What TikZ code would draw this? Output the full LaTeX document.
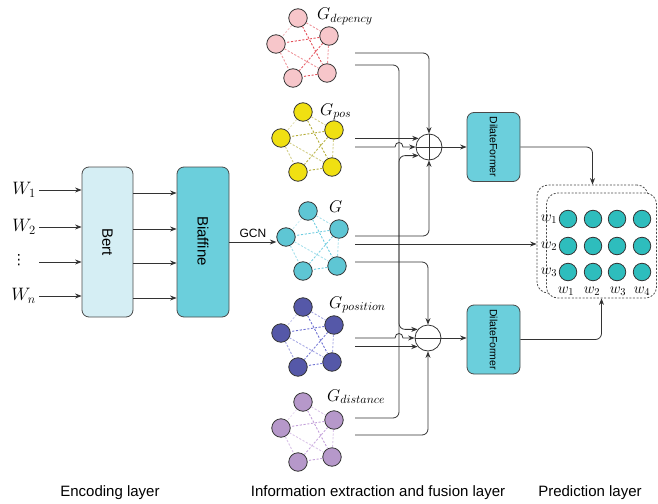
\RequirePackage{fix-cm}
\documentclass[tikz,border=0pt]{standalone}
\usepackage{fontspec}
\setsansfont{Liberation Sans}
\newfontfamily\symbolfont{DejaVu Sans}
\usetikzlibrary{arrows.meta,calc}

\definecolor{dkline}{HTML}{333333}
\definecolor{boxline}{HTML}{4A4A4A}
\definecolor{pinkfill}{HTML}{F7C6CA}
\definecolor{pinkedge}{HTML}{E4505A}
\definecolor{yelfill}{HTML}{F0E012}
\definecolor{yeledge}{HTML}{B5AE3A}
\definecolor{cyanfill}{HTML}{5EC6D4}
\definecolor{cyanedge}{HTML}{6FCDE0}
\definecolor{bluefill}{HTML}{5558A8}
\definecolor{blueedge}{HTML}{6D70D2}
\definecolor{purpfill}{HTML}{B698CA}
\definecolor{purpedge}{HTML}{C3A0DA}
\definecolor{bertfill}{HTML}{D5EEF4}
\definecolor{biafill}{HTML}{6BCFDC}
\definecolor{gridfill}{HTML}{2EBDBD}

% five-node graph: prefix, x, y, fill colour, edge colour
\newcommand\graphfive[5]{%
  \begin{scope}[shift={(#2,#3)}]
    \node[gnode,fill=#4] (#1a) at (0,0) {};
    \node[gnode,fill=#4] (#1b) at (31,18) {};
    \node[gnode,fill=#4] (#1c) at (-22,26) {};
    \node[gnode,fill=#4] (#1d) at (29,55) {};
    \node[gnode,fill=#4] (#1e) at (-5,60) {};
  \end{scope}
  \foreach \p/\q/\o in {a/b/0.6,a/d/1,b/c/1,b/d/0.6,b/e/0.9,c/d/0.6,c/e/0.6,d/e/1,a/c/0.35}
    \draw[gedge,draw=#5,draw opacity=\o] (#1\p) -- (#1\q);
}

\begin{document}
\begin{tikzpicture}[x=1pt,y=-1pt,
  gnode/.style={circle,draw=dkline,line width=0.8pt,minimum size=18.5pt,inner sep=0pt},
  gedge/.style={dash pattern=on 2.2pt off 1.6pt,line width=0.9pt},
  wire/.style={draw=dkline,line width=0.8pt},
  conn/.style={wire,-{Stealth[length=6.5pt,width=5pt]}},
  rc/.style={rounded corners=6pt},
  block/.style={draw=boxline,line width=0.8pt,rounded corners=7pt},
  fuse/.style={circle,draw=dkline,line width=0.8pt,fill=white,minimum size=26pt,inner sep=0pt},
  dbox/.style={draw=boxline,line width=0.8pt,dash pattern=on 2pt off 1.6pt,rounded corners=11pt},
  pnode/.style={circle,draw=dkline,line width=0.8pt,fill=gridfill,minimum size=17.5pt,inner sep=0pt},
  lab/.style={font=\sffamily\fontsize{15}{18}\selectfont},
  wlab/.style={font=\fontsize{18}{20}\selectfont,inner sep=0pt},
  glab/.style={font=\fontsize{17}{19}\selectfont,inner sep=0pt},
  plab/.style={font=\fontsize{15}{17}\selectfont,inner sep=0pt}]
\useasboundingbox (0,0) rectangle (658,503);

% ---------------- encoding layer ----------------
\node[block,fill=bertfill,minimum width=51pt,minimum height=150pt] (bert) at (107.5,242) {};
\node[lab,rotate=-90] (berttxt) at (bert.center) {Bert};
\node[block,fill=biafill,minimum width=52pt,minimum height=150pt] (biaf) at (203,242) {};
\node[lab,rotate=-90] (biaftxt) at (203,241) {Biaffine};

\node[wlab,anchor=east] (w1) at (36,190) {$W_1$};
\node[wlab,anchor=east] (w2) at (36,227) {$W_2$};
\node[font=\symbolfont\fontsize{14}{16}\selectfont,inner sep=0pt] (w3) at (19,260) {⋮};
\node[wlab,anchor=east] (w4) at (36,296) {$W_n$};
\coordinate (inx) at (39,0);
\coordinate (in3) at (39,262);
\draw[conn] (inx |- w1.east) -- (w1.east -| bert.west);
\draw[conn] (inx |- w2.east) -- (w2.east -| bert.west);
\draw[conn] (in3) -- (in3 -| bert.west);
\draw[conn] (inx |- w4.east) -- (w4.east -| bert.west);

\foreach \s in {49,13,-21,-56}
  \draw[conn] ([yshift=\s pt]bert.east) -- ([yshift=\s pt]biaf.west);

% ---------------- graphs ----------------
\graphfive{dep}{298}{18}{pinkfill}{pinkedge}
\graphfive{pos}{303}{112}{yelfill}{yeledge}
\graphfive{g}{308}{211}{cyanfill}{cyanedge}
\graphfive{psn}{303}{307}{bluefill}{blueedge}
\graphfive{dst}{303}{402}{purpfill}{purpedge}

\node[glab,anchor=base west] (ldep) at (317,20) {$G_{depency}$};
\node[glab,anchor=base west] (lpos) at (320,115) {$G_{pos}$};
\node[glab,anchor=base west] (lg) at (329,212) {$G$};
\node[glab,anchor=base west] (lpsn) at (329,308) {$G_{position}$};
\node[glab,anchor=base west] (ldst) at (327,401) {$G_{distance}$};

\draw[conn] (biaf.east) -- (biaf.east -| gc.west) node[midway,above=4pt,font=\sffamily\fontsize{12}{14}\selectfont,inner sep=0pt] (gcn) {GCN};

% ---------------- fusion ----------------
\node[fuse] (f1) at (429,147) {};
\node[fuse] (f2) at (428,338) {};
\draw[wire] (f1.north) -- (f1.south) (f1.west) -- (f1.east);
\draw[wire] (f2.west) -- (f2.east);

\coordinate (ox) at (355,0);
\coordinate (trunk) at (399,0);
\coordinate (dep-o1) at (355,53);
\coordinate (dep-o2) at (355,65);
\coordinate (g-o1) at (355,236);
\coordinate (g-o2) at (355,244);
\coordinate (g-o3) at (355,262);
\coordinate (dst-o1) at (355,418);
\coordinate (dst-o2) at (355,435);
\coordinate (h1l) at (395,147);
\coordinate (h1r) at (403,147);
\coordinate (h2l) at (395,338);
\coordinate (h2r) at (403,338);

\draw[conn,rc] (dep-o1) -| (f1.north);
\draw[conn,rc] (dep-o2) -| (trunk |- f2.140) -- (f2.140);
\draw[conn] (ox |- f1.140) -- (f1.140);
\draw[conn] (ox |- f1.180) -- (h1l) .. controls +(0,-6) and +(0,-6) .. (h1r) -- (f1.180);
\draw[conn,rc] (dst-o1) -| (trunk |- f1.220) -- (f1.220);
\draw[conn,rc] (g-o1) -| (f1.south);
\draw[conn,rc] (g-o3) -| (f2.north);
\draw[conn] (ox |- f2.180) -- (h2l) .. controls +(0,-6) and +(0,-6) .. (h2r) -- (f2.180);
\draw[conn] (ox |- f2.220) -- (f2.220);
\draw[conn,rc] (dst-o2) -| (f2.south);

% ---------------- DilateFormer blocks ----------------
\node[block,fill=biafill,minimum width=53pt,minimum height=69pt] (df1) at (493.5,147) {};
\node[rotate=-90,font=\sffamily\fontsize{10.5}{12}\selectfont] (df1txt) at (df1.center) {DilateFormer};
\node[block,fill=biafill,minimum width=53pt,minimum height=69pt] (df2) at (493.5,339.5) {};
\node[rotate=-90,font=\sffamily\fontsize{10.5}{12}\selectfont] (df2txt) at (df2.center) {DilateFormer};
\draw[conn] (f1.east) -- (f1.east -| df1.west);
\draw[conn] (f2.east) -- (f2.east -| df2.west);

% ---------------- prediction ----------------
\node[dbox,minimum width=111pt,minimum height=108pt] (pback) at (592.5,239) {};
\node[dbox,fill=white,minimum width=110pt,minimum height=105pt] (pfront) at (601.5,245.5) {};
\foreach \r/\yy in {1/219,2/246,3/272}
  \foreach \c/\xx in {1/568,2/593,3/617,4/642}
    \node[pnode] (p\r\c) at (\xx,\yy) {};
\foreach \r/\yy in {1/219,2/246,3/272}
  \node[plab] (rl\r) at (549,\yy) {$w_{\r}$};
\foreach \c/\xx in {1/566,2/592,3/618,4/642}
  \node[plab] (cl\c) at (\xx,291) {$w_{\c}$};

\draw[conn] (g-o2) -- (g-o2 -| pback.west);
\draw[conn,rc] (df1.east) -| (pback.north);
\draw[conn,rc] (df2.east) -| (pfront.south);

% ---------------- layer captions ----------------
\node[lab] (cap1) at (110,493) {Encoding layer};
\node[lab] (cap2) at (378,493) {Information extraction and fusion layer};
\node[lab] (cap3) at (590,493) {Prediction layer};
\end{tikzpicture}
\end{document}
